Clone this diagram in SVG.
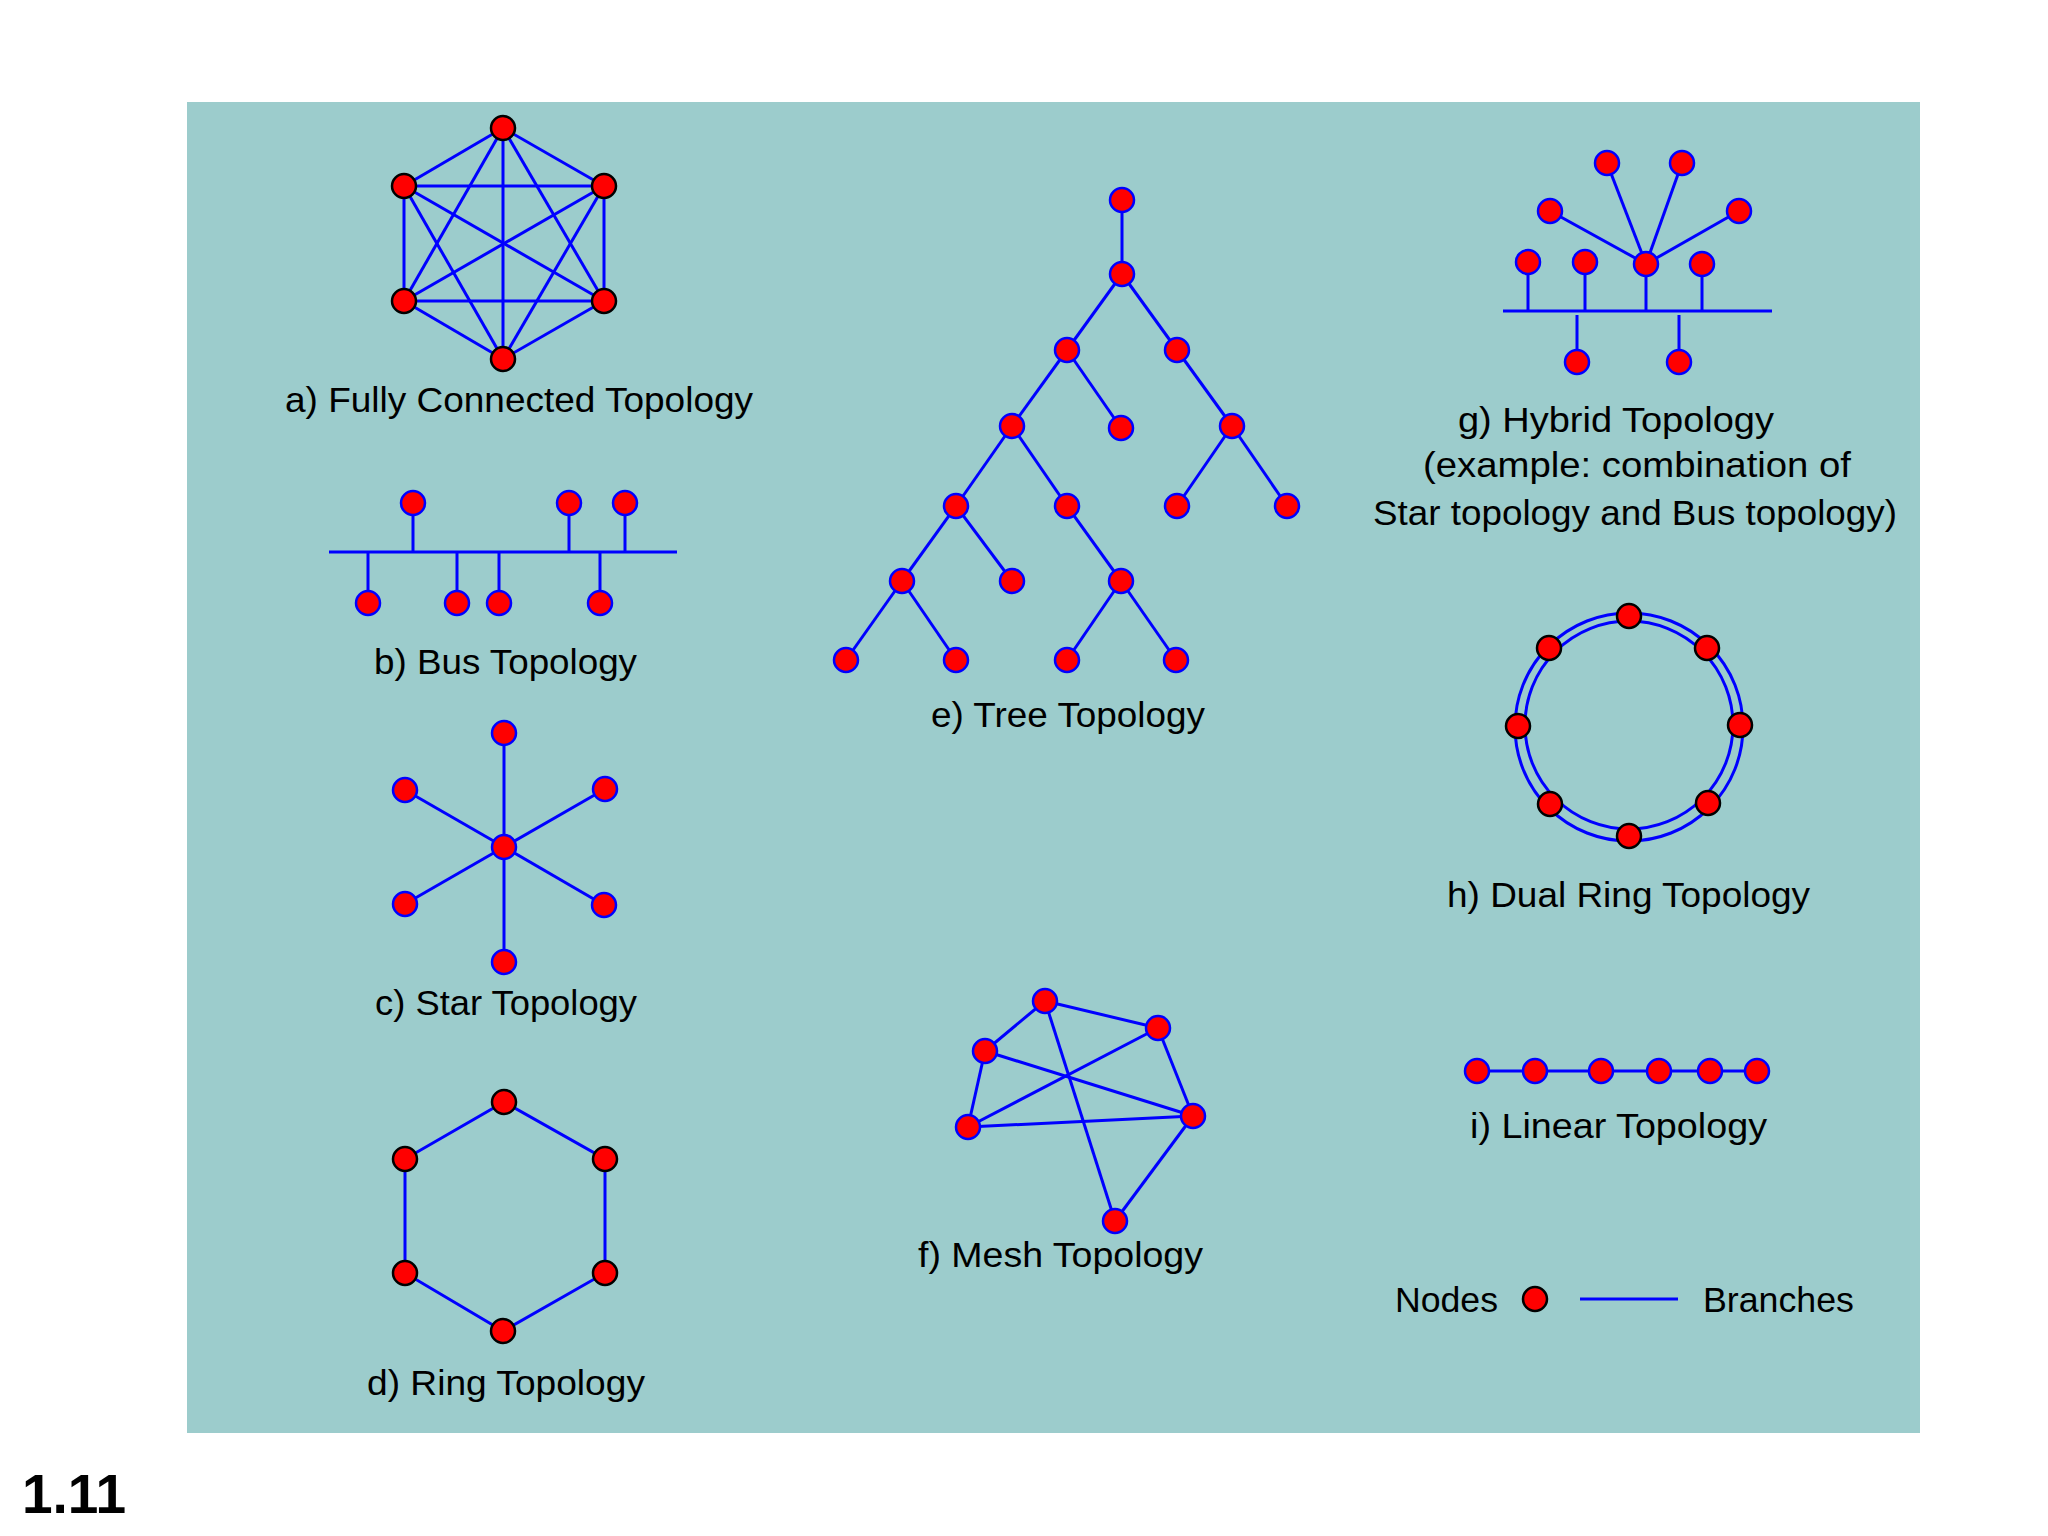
<svg xmlns="http://www.w3.org/2000/svg" width="2048" height="1536" viewBox="0 0 2048 1536">
<style>
.bg{fill:#9ccccc}
.e{stroke:#0000ff;stroke-width:3;fill:none}
.nb{fill:#ff0000;stroke:#0000ff;stroke-width:2.5}
.nk{fill:#ff0000;stroke:#000000;stroke-width:2.5}
.lbl{font-family:"Liberation Sans",Arial,sans-serif;font-size:35px;fill:#000}
.num{font-family:"Liberation Sans",Arial,sans-serif;font-size:55px;font-weight:bold;fill:#000}
</style>
<rect width="2048" height="1536" fill="#ffffff"/>
<rect class="bg" x="187" y="102" width="1733" height="1331"/>

<g id="connectors">
  <!-- a) fully connected -->
  <g id="conn-a">
    <line class="e" x1="503" y1="128" x2="404" y2="186"/>
    <line class="e" x1="503" y1="128" x2="604" y2="186"/>
    <line class="e" x1="503" y1="128" x2="404" y2="301"/>
    <line class="e" x1="503" y1="128" x2="604" y2="301"/>
    <line class="e" x1="503" y1="128" x2="503" y2="359"/>
    <line class="e" x1="404" y1="186" x2="604" y2="186"/>
    <line class="e" x1="404" y1="186" x2="404" y2="301"/>
    <line class="e" x1="404" y1="186" x2="604" y2="301"/>
    <line class="e" x1="404" y1="186" x2="503" y2="359"/>
    <line class="e" x1="604" y1="186" x2="404" y2="301"/>
    <line class="e" x1="604" y1="186" x2="604" y2="301"/>
    <line class="e" x1="604" y1="186" x2="503" y2="359"/>
    <line class="e" x1="404" y1="301" x2="604" y2="301"/>
    <line class="e" x1="404" y1="301" x2="503" y2="359"/>
    <line class="e" x1="604" y1="301" x2="503" y2="359"/>
  </g>
  <!-- b) bus -->
  <g id="conn-b">
    <line class="e" x1="329" y1="552" x2="677" y2="552"/>
    <line class="e" x1="413" y1="503" x2="413" y2="552"/>
    <line class="e" x1="569" y1="503" x2="569" y2="552"/>
    <line class="e" x1="625" y1="503" x2="625" y2="552"/>
    <line class="e" x1="368" y1="552" x2="368" y2="603"/>
    <line class="e" x1="457" y1="552" x2="457" y2="603"/>
    <line class="e" x1="499" y1="552" x2="499" y2="603"/>
    <line class="e" x1="600" y1="552" x2="600" y2="603"/>
  </g>
  <!-- c) star -->
  <g id="conn-c">
    <line class="e" x1="504" y1="847" x2="504" y2="733"/>
    <line class="e" x1="504" y1="847" x2="504" y2="962"/>
    <line class="e" x1="504" y1="847" x2="405" y2="790"/>
    <line class="e" x1="504" y1="847" x2="605" y2="789"/>
    <line class="e" x1="504" y1="847" x2="405" y2="904"/>
    <line class="e" x1="504" y1="847" x2="604" y2="905"/>
  </g>
  <!-- d) ring -->
  <g id="conn-d">
    <polygon class="e" points="504,1102 605,1159 605,1273 503,1331 405,1273 405,1159"/>
  </g>
  <!-- e) tree -->
  <g id="conn-e">
    <line class="e" x1="1122" y1="200" x2="1122" y2="274"/>
    <line class="e" x1="1122" y1="274" x2="1067" y2="350"/>
    <line class="e" x1="1122" y1="274" x2="1177" y2="350"/>
    <line class="e" x1="1067" y1="350" x2="1012" y2="426"/>
    <line class="e" x1="1067" y1="350" x2="1121" y2="428"/>
    <line class="e" x1="1177" y1="350" x2="1232" y2="426"/>
    <line class="e" x1="1012" y1="426" x2="956" y2="506"/>
    <line class="e" x1="1012" y1="426" x2="1067" y2="506"/>
    <line class="e" x1="1232" y1="426" x2="1177" y2="506"/>
    <line class="e" x1="1232" y1="426" x2="1287" y2="506"/>
    <line class="e" x1="956" y1="506" x2="902" y2="581"/>
    <line class="e" x1="956" y1="506" x2="1012" y2="581"/>
    <line class="e" x1="1067" y1="506" x2="1121" y2="581"/>
    <line class="e" x1="902" y1="581" x2="846" y2="660"/>
    <line class="e" x1="902" y1="581" x2="956" y2="660"/>
    <line class="e" x1="1121" y1="581" x2="1067" y2="660"/>
    <line class="e" x1="1121" y1="581" x2="1176" y2="660"/>
  </g>
  <!-- f) mesh -->
  <g id="conn-f">
    <line class="e" x1="1045" y1="1001" x2="1158" y2="1028"/>
    <line class="e" x1="1045" y1="1001" x2="985" y2="1051"/>
    <line class="e" x1="1045" y1="1001" x2="1115" y2="1221"/>
    <line class="e" x1="1158" y1="1028" x2="968" y2="1127"/>
    <line class="e" x1="1158" y1="1028" x2="1193" y2="1116"/>
    <line class="e" x1="985" y1="1051" x2="1193" y2="1116"/>
    <line class="e" x1="985" y1="1051" x2="968" y2="1127"/>
    <line class="e" x1="968" y1="1127" x2="1193" y2="1116"/>
    <line class="e" x1="1193" y1="1116" x2="1115" y2="1221"/>
  </g>
  <!-- g) hybrid -->
  <g id="conn-g">
    <line class="e" x1="1503" y1="311" x2="1772" y2="311"/>
    <line class="e" x1="1646" y1="264" x2="1550" y2="211"/>
    <line class="e" x1="1646" y1="264" x2="1607" y2="163"/>
    <line class="e" x1="1646" y1="264" x2="1682" y2="163"/>
    <line class="e" x1="1646" y1="264" x2="1739" y2="211"/>
    <line class="e" x1="1528" y1="262" x2="1528" y2="311"/>
    <line class="e" x1="1585" y1="262" x2="1585" y2="311"/>
    <line class="e" x1="1646" y1="264" x2="1646" y2="311"/>
    <line class="e" x1="1702" y1="264" x2="1702" y2="311"/>
    <line class="e" x1="1577" y1="315" x2="1577" y2="362"/>
    <line class="e" x1="1679" y1="315" x2="1679" y2="362"/>
  </g>
  <!-- h) dual ring -->
  <g id="conn-h">
    <circle class="e" cx="1629" cy="727" r="114"/>
    <circle class="e" cx="1629" cy="725" r="104"/>
  </g>
  <!-- i) linear -->
  <g id="conn-i">
    <line class="e" x1="1477" y1="1071" x2="1757" y2="1071"/>
  </g>
  <!-- legend -->
  <g id="conn-legend">
    <line class="e" x1="1580" y1="1299" x2="1678" y2="1299"/>
  </g>
</g>

<g id="nodes-a">
  <g id="a1"><circle class="nk" cx="503" cy="128" r="12"/></g>
  <g id="a2"><circle class="nk" cx="404" cy="186" r="12"/></g>
  <g id="a3"><circle class="nk" cx="604" cy="186" r="12"/></g>
  <g id="a4"><circle class="nk" cx="404" cy="301" r="12"/></g>
  <g id="a5"><circle class="nk" cx="604" cy="301" r="12"/></g>
  <g id="a6"><circle class="nk" cx="503" cy="359" r="12"/></g>
</g>
<g id="nodes-b">
  <g id="b1"><circle class="nb" cx="413" cy="503" r="12"/></g>
  <g id="b2"><circle class="nb" cx="569" cy="503" r="12"/></g>
  <g id="b3"><circle class="nb" cx="625" cy="503" r="12"/></g>
  <g id="b4"><circle class="nb" cx="368" cy="603" r="12"/></g>
  <g id="b5"><circle class="nb" cx="457" cy="603" r="12"/></g>
  <g id="b6"><circle class="nb" cx="499" cy="603" r="12"/></g>
  <g id="b7"><circle class="nb" cx="600" cy="603" r="12"/></g>
</g>
<g id="nodes-c">
  <g id="c0"><circle class="nb" cx="504" cy="847" r="12"/></g>
  <g id="c1"><circle class="nb" cx="504" cy="733" r="12"/></g>
  <g id="c2"><circle class="nb" cx="405" cy="790" r="12"/></g>
  <g id="c3"><circle class="nb" cx="605" cy="789" r="12"/></g>
  <g id="c4"><circle class="nb" cx="405" cy="904" r="12"/></g>
  <g id="c5"><circle class="nb" cx="604" cy="905" r="12"/></g>
  <g id="c6"><circle class="nb" cx="504" cy="962" r="12"/></g>
</g>
<g id="nodes-d">
  <g id="d1"><circle class="nk" cx="504" cy="1102" r="12"/></g>
  <g id="d2"><circle class="nk" cx="605" cy="1159" r="12"/></g>
  <g id="d3"><circle class="nk" cx="605" cy="1273" r="12"/></g>
  <g id="d4"><circle class="nk" cx="503" cy="1331" r="12"/></g>
  <g id="d5"><circle class="nk" cx="405" cy="1273" r="12"/></g>
  <g id="d6"><circle class="nk" cx="405" cy="1159" r="12"/></g>
</g>
<g id="nodes-e">
  <g id="e0"><circle class="nb" cx="1122" cy="200" r="12"/></g>
  <g id="e1"><circle class="nb" cx="1122" cy="274" r="12"/></g>
  <g id="e2"><circle class="nb" cx="1067" cy="350" r="12"/></g>
  <g id="e3"><circle class="nb" cx="1177" cy="350" r="12"/></g>
  <g id="e4"><circle class="nb" cx="1012" cy="426" r="12"/></g>
  <g id="e5"><circle class="nb" cx="1121" cy="428" r="12"/></g>
  <g id="e6"><circle class="nb" cx="1232" cy="426" r="12"/></g>
  <g id="e7"><circle class="nb" cx="956" cy="506" r="12"/></g>
  <g id="e8"><circle class="nb" cx="1067" cy="506" r="12"/></g>
  <g id="e9"><circle class="nb" cx="1177" cy="506" r="12"/></g>
  <g id="e10"><circle class="nb" cx="1287" cy="506" r="12"/></g>
  <g id="e11"><circle class="nb" cx="902" cy="581" r="12"/></g>
  <g id="e12"><circle class="nb" cx="1012" cy="581" r="12"/></g>
  <g id="e13"><circle class="nb" cx="1121" cy="581" r="12"/></g>
  <g id="e14"><circle class="nb" cx="846" cy="660" r="12"/></g>
  <g id="e15"><circle class="nb" cx="956" cy="660" r="12"/></g>
  <g id="e16"><circle class="nb" cx="1067" cy="660" r="12"/></g>
  <g id="e17"><circle class="nb" cx="1176" cy="660" r="12"/></g>
</g>
<g id="nodes-f">
  <g id="f1"><circle class="nb" cx="1045" cy="1001" r="12"/></g>
  <g id="f2"><circle class="nb" cx="1158" cy="1028" r="12"/></g>
  <g id="f3"><circle class="nb" cx="985" cy="1051" r="12"/></g>
  <g id="f4"><circle class="nb" cx="968" cy="1127" r="12"/></g>
  <g id="f5"><circle class="nb" cx="1193" cy="1116" r="12"/></g>
  <g id="f6"><circle class="nb" cx="1115" cy="1221" r="12"/></g>
</g>
<g id="nodes-g">
  <g id="g1"><circle class="nb" cx="1607" cy="163" r="12"/></g>
  <g id="g2"><circle class="nb" cx="1682" cy="163" r="12"/></g>
  <g id="g3"><circle class="nb" cx="1550" cy="211" r="12"/></g>
  <g id="g4"><circle class="nb" cx="1739" cy="211" r="12"/></g>
  <g id="g5"><circle class="nb" cx="1528" cy="262" r="12"/></g>
  <g id="g6"><circle class="nb" cx="1585" cy="262" r="12"/></g>
  <g id="g7"><circle class="nb" cx="1646" cy="264" r="12"/></g>
  <g id="g8"><circle class="nb" cx="1702" cy="264" r="12"/></g>
  <g id="g9"><circle class="nb" cx="1577" cy="362" r="12"/></g>
  <g id="g10"><circle class="nb" cx="1679" cy="362" r="12"/></g>
</g>
<g id="nodes-h">
  <g id="h1"><circle class="nk" cx="1629" cy="616" r="12"/></g>
  <g id="h2"><circle class="nk" cx="1707" cy="648" r="12"/></g>
  <g id="h3"><circle class="nk" cx="1740" cy="725" r="12"/></g>
  <g id="h4"><circle class="nk" cx="1708" cy="803" r="12"/></g>
  <g id="h5"><circle class="nk" cx="1629" cy="836" r="12"/></g>
  <g id="h6"><circle class="nk" cx="1550" cy="804" r="12"/></g>
  <g id="h7"><circle class="nk" cx="1518" cy="726" r="12"/></g>
  <g id="h8"><circle class="nk" cx="1549" cy="648" r="12"/></g>
</g>
<g id="nodes-i">
  <g id="i1"><circle class="nb" cx="1477" cy="1071" r="12"/></g>
  <g id="i2"><circle class="nb" cx="1535" cy="1071" r="12"/></g>
  <g id="i3"><circle class="nb" cx="1601" cy="1071" r="12"/></g>
  <g id="i4"><circle class="nb" cx="1659" cy="1071" r="12"/></g>
  <g id="i5"><circle class="nb" cx="1710" cy="1071" r="12"/></g>
  <g id="i6"><circle class="nb" cx="1757" cy="1071" r="12"/></g>
</g>
<g id="legend">
  <g id="legend-node"><circle class="nk" cx="1535" cy="1299" r="12"/></g>
  <text class="lbl" x="1395" y="1312" textLength="103" lengthAdjust="spacingAndGlyphs">Nodes</text>
  <text class="lbl" x="1703" y="1312" textLength="151" lengthAdjust="spacingAndGlyphs">Branches</text>
</g>

<g id="labels">
  <text class="lbl" x="285" y="412" textLength="468" lengthAdjust="spacingAndGlyphs">a) Fully Connected Topology</text>
  <text class="lbl" x="374" y="674" textLength="263" lengthAdjust="spacingAndGlyphs">b) Bus Topology</text>
  <text class="lbl" x="375" y="1015" textLength="262" lengthAdjust="spacingAndGlyphs">c) Star Topology</text>
  <text class="lbl" x="367" y="1395" textLength="278" lengthAdjust="spacingAndGlyphs">d) Ring Topology</text>
  <text class="lbl" x="931" y="727" textLength="274" lengthAdjust="spacingAndGlyphs">e) Tree Topology</text>
  <text class="lbl" x="918" y="1267" textLength="285" lengthAdjust="spacingAndGlyphs">f) Mesh Topology</text>
  <text class="lbl" x="1458" y="432" textLength="316" lengthAdjust="spacingAndGlyphs">g) Hybrid Topology</text>
  <text class="lbl" x="1423" y="477" textLength="428" lengthAdjust="spacingAndGlyphs">(example: combination of</text>
  <text class="lbl" x="1373" y="525" textLength="524" lengthAdjust="spacingAndGlyphs">Star topology and Bus topology)</text>
  <text class="lbl" x="1447" y="907" textLength="363" lengthAdjust="spacingAndGlyphs">h) Dual Ring Topology</text>
  <text class="lbl" x="1470" y="1138" textLength="297" lengthAdjust="spacingAndGlyphs">i) Linear Topology</text>
</g>

<text class="num" x="22" y="1513">1.11</text>
</svg>
